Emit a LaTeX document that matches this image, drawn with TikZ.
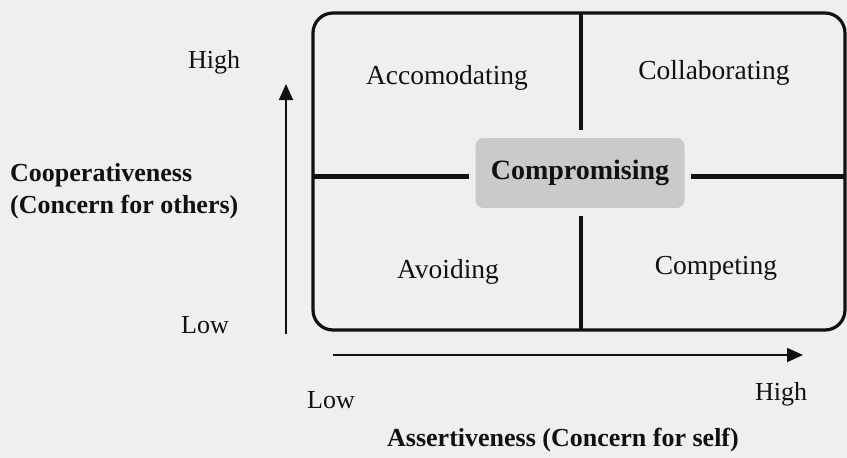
\documentclass[tikz,border=0pt]{standalone}
\usepackage{fontspec}
\setmainfont{Liberation Serif}
\usetikzlibrary{arrows.meta}
\definecolor{bgcol}{HTML}{EEEFEE}
\definecolor{inkcol}{HTML}{111111}
\definecolor{compfill}{HTML}{C9CACA}
\begin{document}
\begin{tikzpicture}[x=1pt,y=-1pt,
  quad/.style={font=\fontsize{27.5}{30}\selectfont, text=inkcol, inner sep=0pt},
  axlab/.style={font=\fontsize{26}{29}\selectfont, text=inkcol, inner sep=0pt},
  axtitle/.style={font=\bfseries\fontsize{26}{32}\selectfont, text=inkcol, inner sep=0pt, align=left},
  axarrow/.style={draw=inkcol, line width=1.8pt, -{Triangle[length=16pt,width=14pt]}},
  divline/.style={draw=inkcol, line width=3.2pt},
  midline/.style={draw=inkcol, line width=5pt}]
\fill[bgcol] (0,0) rectangle (847,458);
\useasboundingbox (0,0) rectangle (847,458);
% outer frame
\draw[divline, rounded corners=20pt] (313,13) rectangle (845,330);
\coordinate (topmid) at (581,13);
\coordinate (botmid) at (581,330);
\coordinate (leftmid) at (313,176);
\coordinate (rightmid) at (845,176);
% compromising box
\node[fill=compfill, rounded corners=8pt, minimum width=209pt, minimum height=70pt,
      font=\bfseries\fontsize{28}{30}\selectfont, text=inkcol] (comp) at (580,173) {Compromising};
\draw[divline] (topmid) -- ([yshift=8pt]comp.north -| topmid);
\draw[divline] (botmid) -- ([yshift=-8pt]comp.south -| botmid);
\draw[midline] (leftmid) -- ([xshift=-6pt]comp.west |- leftmid);
\draw[midline] (rightmid) -- ([xshift=6pt]comp.east |- rightmid);
% quadrant labels
\node[quad] (acc) at (447,78) {Accomodating};
\node[quad] (col) at (714,73) {Collaborating};
\node[quad] (avo) at (448,272) {Avoiding};
\node[quad] (cpt) at (716,268) {Competing};
% vertical axis
\node[axlab] (yhigh) at (214,62) {High};
\node[axlab] (ylow) at (205,325) {Low};
\coordinate (ystart) at (286,334);
\coordinate (yend) at (286,84);
\draw[axarrow] (ystart) -- (yend);
\node[axtitle, anchor=west] (ytitle) at (10,191) {Cooperativeness\\(Concern for others)};
% horizontal axis
\coordinate (xstart) at (333,355);
\coordinate (xend) at (803,355);
\draw[axarrow] (xstart) -- (xend);
\node[axlab] (xlow) at (331,400) {Low};
\node[axlab] (xhigh) at (781,394) {High};
\node[axtitle] (xtitle) at (563,440) {Assertiveness (Concern for self)};
\end{tikzpicture}
\end{document}
